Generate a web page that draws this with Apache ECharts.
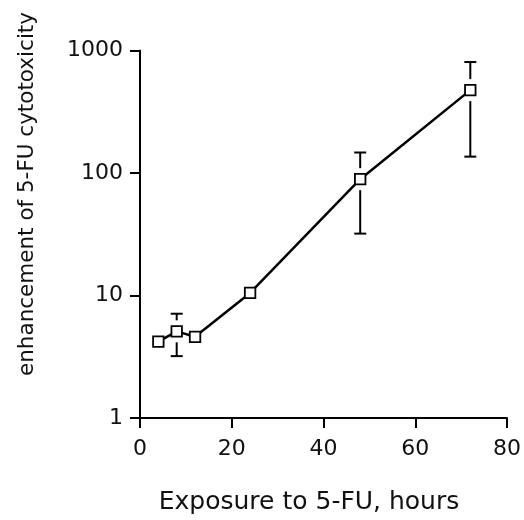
<!DOCTYPE html>
<html>
<head>
<meta charset="utf-8">
<script src="https://cdn.jsdelivr.net/npm/echarts@6/dist/echarts.min.js"></script>
<style>
html, body { margin: 0; padding: 0; background: #fff; }
#chart { width: 524px; height: 520px; }
</style>
</head>
<body>
<div id="chart"></div>
<script>
// exposure time (h) and enhancement of 5-FU cytotoxicity
var hours = [4, 8, 12, 24, 48, 72];
var enhancement = [4.2, 5.1, 4.6, 10.5, 89, 475];
var errLow = [null, 3.2, null, null, 32, 136];
var errHigh = [null, 7.1, null, null, 147, 805];
var xTicks = [0, 20, 40, 60, 80];
var yTicks = [1, 10, 100, 1000];

var font = 'DejaVu Sans';

var lineData = hours.map(function (h, i) { return [h, enhancement[i]]; });
var errData = [];
hours.forEach(function (h, i) {
  if (errLow[i] != null) errData.push([h, enhancement[i], errLow[i], errHigh[i]]);
});

var chart = echarts.init(document.getElementById('chart'));
chart.setOption({
  backgroundColor: '#fff',
  animation: false,
  grid: { left: 140, right: 17, top: 50.5, bottom: 102 },
  xAxis: {
    type: 'value',
    min: xTicks[0],
    max: xTicks[xTicks.length - 1],
    interval: 20,
    axisLine: { lineStyle: { color: '#000', width: 2 } },
    axisTick: { length: 10, lineStyle: { color: '#000', width: 2 } },
    axisLabel: { margin: 20, color: '#111', fontSize: 22, fontFamily: font },
    splitLine: { show: false }
  },
  yAxis: {
    type: 'log',
    logBase: 10,
    min: yTicks[0],
    max: yTicks[yTicks.length - 1],
    axisLine: { lineStyle: { color: '#000', width: 2 } },
    axisTick: { length: 10, lineStyle: { color: '#000', width: 2 } },
    axisLabel: {
      margin: 17, color: '#111', fontSize: 22, fontFamily: font,
      formatter: function (v) { return String(Math.round(v)); }
    },
    splitLine: { show: false }
  },
  graphic: [
    {
      type: 'text', x: 309, y: 502,
      style: { text: 'Exposure to 5-FU, hours', fill: '#111', font: '25px "DejaVu Sans"', textAlign: 'center', textVerticalAlign: 'middle' }
    },
    {
      type: 'text', x: 27, y: 194, rotation: Math.PI / 2,
      style: { text: 'enhancement of 5-FU cytotoxicity', fill: '#111', font: '21.5px "DejaVu Sans"', textAlign: 'center', textVerticalAlign: 'middle' }
    }
  ],
  series: [
    {
      type: 'custom',
      z: 1,
      data: errData,
      renderItem: function (params, api) {
        var x = api.value(0);
        var mid = api.coord([x, api.value(1)]);
        var lo = api.coord([x, api.value(2)]);
        var hi = api.coord([x, api.value(3)]);
        var gap = 11, cap = 6;
        var st = { stroke: '#000', lineWidth: 2 };
        var kids = [];
        if (mid[1] - hi[1] > gap) {
          kids.push({ type: 'line', shape: { x1: hi[0], y1: hi[1], x2: hi[0], y2: mid[1] - gap }, style: st });
        }
        kids.push({ type: 'line', shape: { x1: hi[0] - cap, y1: hi[1], x2: hi[0] + cap, y2: hi[1] }, style: st });
        if (lo[1] - mid[1] > gap) {
          kids.push({ type: 'line', shape: { x1: lo[0], y1: mid[1] + gap, x2: lo[0], y2: lo[1] }, style: st });
        }
        kids.push({ type: 'line', shape: { x1: lo[0] - cap, y1: lo[1], x2: lo[0] + cap, y2: lo[1] }, style: st });
        return { type: 'group', children: kids };
      }
    },
    {
      type: 'line',
      z: 3,
      data: lineData,
      symbol: 'rect',
      symbolSize: 10.5,
      showAllSymbol: true,
      lineStyle: { color: '#000', width: 2.5 },
      itemStyle: { color: '#fff', borderColor: '#000', borderWidth: 1.8 }
    }
  ]
});
</script>
</body>
</html>
